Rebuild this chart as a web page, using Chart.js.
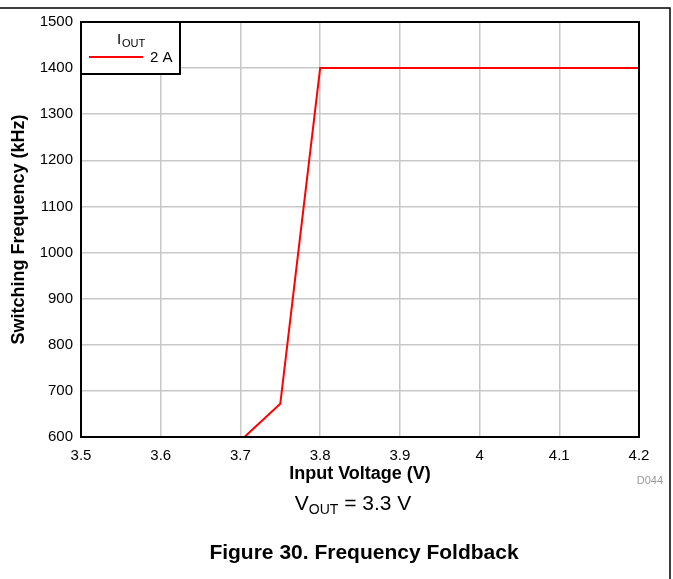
<!DOCTYPE html>
<html>
<head>
<meta charset="utf-8">
<script src="https://cdn.jsdelivr.net/npm/chart.js@4"></script>
<style>
  html, body { margin: 0; padding: 0; background: #fff; }
  canvas { display: block; }
</style>
</head>
<body>
<canvas id="foldbackChart" width="673" height="579"></canvas>
<script>
// Data
const inputVoltage = [3.705, 3.75, 3.8, 3.9, 4.0, 4.1, 4.2];
const switchingFreq = [600, 672, 1400, 1400, 1400, 1400, 1400];
const xTickLabels = ['3.5', '3.6', '3.7', '3.8', '3.9', '4', '4.1', '4.2'];
const yTickLabels = ['600', '700', '800', '900', '1000', '1100', '1200', '1300', '1400', '1500'];
const seriesLabel = '2 A';

const FONT = "'Liberation Sans', Arial, sans-serif";

// draws plot frame, legend box, page border and captions
const decorPlugin = {
    id: 'decor',
    afterDraw(chart) {
        const c = chart.ctx;
        const a = chart.chartArea;
        c.save();

        // plot frame
        c.strokeStyle = '#000';
        c.lineWidth = 2;
        c.strokeRect(a.left, a.top, a.right - a.left, a.bottom - a.top);

        // legend box
        c.fillStyle = '#fff';
        c.fillRect(a.left, a.top, 99, 52);
        c.strokeRect(a.left, a.top, 99, 52);
        c.fillStyle = '#000';
        c.textBaseline = 'alphabetic';
        c.textAlign = 'left';
        c.font = '15px ' + FONT;
        c.fillText('I', a.left + 36, a.top + 22);
        c.font = '11px ' + FONT;
        c.fillText('OUT', a.left + 41, a.top + 25);
        c.strokeStyle = '#ff0000';
        c.beginPath();
        c.moveTo(a.left + 8, a.top + 35);
        c.lineTo(a.left + 62, a.top + 35);
        c.stroke();
        c.fillStyle = '#000';
        c.font = '15px ' + FONT;
        c.fillText(seriesLabel, a.left + 69, a.top + 40);

        // page border
        c.strokeStyle = '#000';
        c.lineWidth = 1.5;
        c.beginPath();
        c.moveTo(0, 8);
        c.lineTo(670, 8);
        c.lineTo(670, 579);
        c.stroke();

        // figure id
        c.fillStyle = '#999';
        c.font = '11px ' + FONT;
        c.textAlign = 'right';
        c.fillText('D044', 663, 484);

        // V_OUT caption
        c.fillStyle = '#000';
        c.textAlign = 'left';
        c.font = '21px ' + FONT;
        const w1 = c.measureText('V').width;
        c.font = '14px ' + FONT;
        const w2 = c.measureText('OUT').width;
        c.font = '21px ' + FONT;
        const w3 = c.measureText(' = 3.3 V').width;
        let x = 353 - (w1 + w2 + w3) / 2;
        c.fillText('V', x, 510);
        c.font = '14px ' + FONT;
        c.fillText('OUT', x + w1, 514);
        c.font = '21px ' + FONT;
        c.fillText(' = 3.3 V', x + w1 + w2, 510);

        // figure title
        c.font = 'bold 21px ' + FONT;
        c.textAlign = 'center';
        c.fillText('Figure 30. Frequency Foldback', 364, 559);

        c.restore();
    }
};

const ctx = document.getElementById('foldbackChart');
new Chart(ctx, {
    type: 'line',
    data: {
        datasets: [{
            label: seriesLabel,
            data: inputVoltage.map((v, i) => ({ x: v, y: switchingFreq[i] })),
            borderColor: '#ff0000',
            borderWidth: 2,
            pointRadius: 0,
            tension: 0,
            fill: false
        }]
    },
    options: {
        responsive: false,
        animation: false,
        layout: { padding: { left: 0, top: 22, right: 34, bottom: 92 } },
        plugins: {
            legend: { display: false },
            tooltip: { enabled: false }
        },
        scales: {
            x: {
                type: 'linear',
                min: 3.5,
                max: 4.2,
                afterFit(scale) { scale.height = 50; },
                afterBuildTicks(scale) {
                    scale.ticks = xTickLabels.map(t => ({ value: parseFloat(t) }));
                },
                grid: { color: '#c8c8c8', lineWidth: 1.5, drawTicks: false },
                border: { color: '#000', width: 2 },
                ticks: {
                    color: '#000',
                    padding: 10,
                    font: { family: FONT, size: 15 },
                    callback: (v, i) => xTickLabels[i]
                },
                title: {
                    display: true,
                    text: 'Input Voltage (V)',
                    color: '#000',
                    padding: { top: 0, bottom: 2 },
                    font: { family: FONT, size: 18, weight: 'bold' }
                }
            },
            y: {
                min: 600,
                max: 1500,
                afterFit(scale) { scale.width = 81; },
                afterBuildTicks(scale) {
                    scale.ticks = yTickLabels.map(t => ({ value: parseFloat(t) }));
                },
                grid: { color: '#c8c8c8', lineWidth: 1.5, drawTicks: false },
                border: { color: '#000', width: 2 },
                ticks: {
                    color: '#000',
                    padding: 8,
                    font: { family: FONT, size: 15 },
                    callback: (v, i) => yTickLabels[i]
                },
                title: {
                    display: true,
                    text: 'Switching Frequency (kHz)',
                    color: '#000',
                    padding: { top: 8, bottom: 0 },
                    font: { family: FONT, size: 18, weight: 'bold' }
                }
            }
        }
    },
    plugins: [decorPlugin]
});
</script>
</body>
</html>
